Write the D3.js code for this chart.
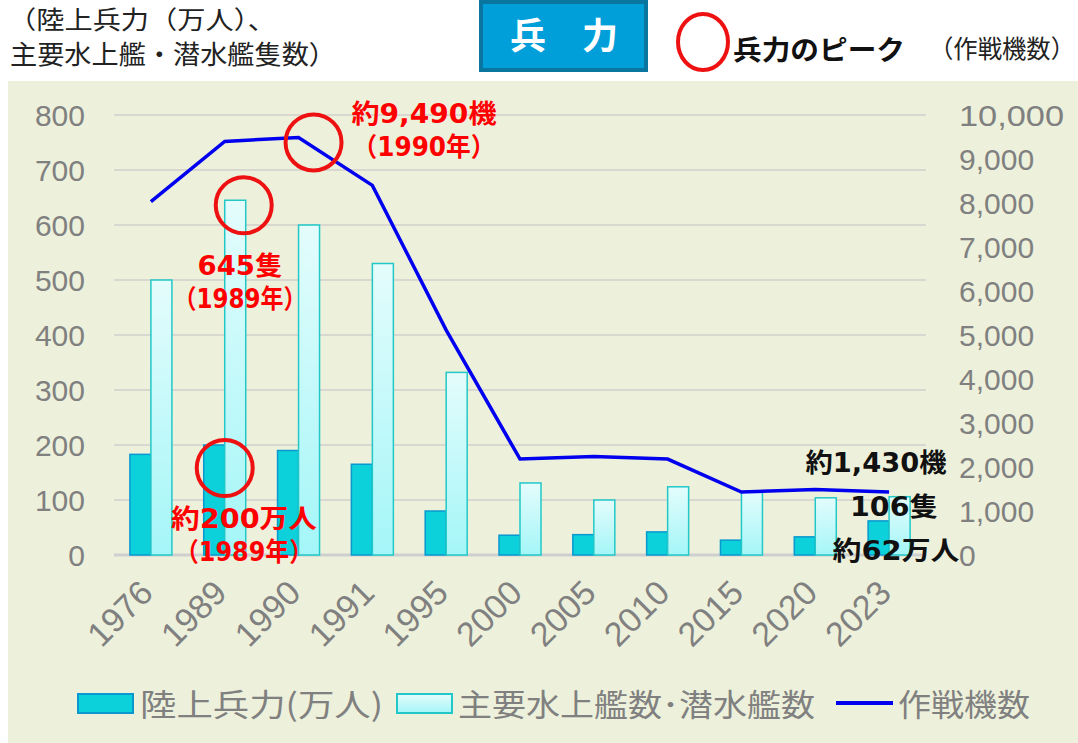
<!DOCTYPE html>
<html lang="ja">
<head>
<meta charset="UTF-8">
<script src="https://cdn.jsdelivr.net/npm/d3@7"></script>
<style>
  body { margin: 0; background: #fff; }
  text { font-family: "Noto Sans CJK JP", "Noto Sans", sans-serif; }
  .num { font-family: "Liberation Sans", Arial, sans-serif; }
  .ann { font-family: "DejaVu Sans", "Noto Sans CJK JP", sans-serif; font-weight: bold; }
</style>
</head>
<body>
<script>
// data
const years = ['1976', '1989', '1990', '1991', '1995', '2000', '2005', '2010', '2015', '2020', '2023'];
const landForces = [183, 200, 190, 165, 80, 36, 37, 42, 27, 33, 62];        // 万人
const ships = [500, 645, 600, 530, 332, 131, 100, 124, 115, 104, 106];      // 隻
const aircraft = [8030, 9400, 9490, 8400, 5110, 2180, 2240, 2180, 1430, 1490, 1430]; // 機
const leftTicks = [0, 100, 200, 300, 400, 500, 600, 700, 800];
const rightTicks = [0, 1000, 2000, 3000, 4000, 5000, 6000, 7000, 8000, 9000, 10000];

const W = 1078, H = 743;
const svg = d3.select('body').append('svg').attr('width', W).attr('height', H);

const defs = svg.append('defs');
const grad = defs.append('linearGradient').attr('id', 'shipGrad').attr('x1', 0).attr('x2', 0).attr('y1', 0).attr('y2', 1);
grad.append('stop').attr('offset', 0).attr('stop-color', '#e4fcfc');
grad.append('stop').attr('offset', 1).attr('stop-color', '#a4f6f8');

// panel
svg.append('rect').attr('x', 8).attr('y', 81).attr('width', W - 8).attr('height', H - 81).attr('fill', '#edf1db');

const x = d3.scaleBand().domain(years).range([114, 926]);
const yL = d3.scaleLinear().domain([0, 800]).range([555, 115]);
const yR = d3.scaleLinear().domain([0, 10000]).range([555, 115]);
const cx = d => x(d) + x.bandwidth() / 2;

// grid
svg.append('g').selectAll('line').data(leftTicks).enter().append('line')
  .attr('x1', 114).attr('x2', 926)
  .attr('y1', d => yL(d)).attr('y2', d => yL(d))
  .attr('stroke', d => d === 0 ? '#cfcfcf' : '#d8d8d0').attr('stroke-width', d => d === 0 ? 3 : 2);

// left axis labels
svg.append('g').selectAll('text').data(leftTicks).enter().append('text')
  .attr('class', 'num')
  .attr('x', 85).attr('y', d => yL(d)).attr('dy', '0.36em')
  .attr('text-anchor', 'end').attr('font-size', 30).attr('fill', '#808080')
  .text(d => d);

// right axis labels
svg.append('g').selectAll('text').data(rightTicks).enter().append('text')
  .attr('class', 'num')
  .attr('x', 959).attr('y', d => yR(d)).attr('dy', '0.36em')
  .attr('text-anchor', 'start').attr('font-size', 30).attr('fill', '#808080')
  .attr('textLength', d => d >= 10000 ? 105 : null).attr('lengthAdjust', 'spacingAndGlyphs')
  .text(d => d3.format(',')(d));

// x labels
svg.append('g').selectAll('text').data(years).enter().append('text')
  .attr('class', 'num')
  .attr('transform', d => `translate(${cx(d) + 4},${595}) rotate(-45)`)
  .attr('text-anchor', 'end').attr('font-size', 34).attr('fill', '#808080')
  .text(d => d);

const bw = 21;
// land bars
svg.append('g').selectAll('rect').data(years).enter().append('rect')
  .attr('x', d => cx(d) - bw)
  .attr('y', (d, i) => yL(landForces[i]))
  .attr('width', bw).attr('height', (d, i) => 555 - yL(landForces[i]))
  .attr('fill', '#0cd0da').attr('stroke', '#0a98cf').attr('stroke-width', 1.5);

// ship bars
svg.append('g').selectAll('rect').data(years).enter().append('rect')
  .attr('x', d => cx(d))
  .attr('y', (d, i) => yL(ships[i]))
  .attr('width', bw).attr('height', (d, i) => 555 - yL(ships[i]))
  .attr('fill', 'url(#shipGrad)').attr('stroke', '#22c8c8').attr('stroke-width', 1.5);

// aircraft line
const line = d3.line().x((d, i) => cx(years[i])).y(d => yR(d));
svg.append('path').datum(aircraft).attr('d', line)
  .attr('fill', 'none').attr('stroke', '#0000ee').attr('stroke-width', 3.5);

// red circles
const circ = [
  { cx: cx('1989'), cy: yL(200) + 23 },
  { cx: cx('1989') + 19, cy: yL(645) + 5 },
  { cx: cx('1990') + 15, cy: yR(9490) + 5 }
];
svg.append('g').selectAll('circle').data(circ).enter().append('circle')
  .attr('cx', d => d.cx).attr('cy', d => d.cy).attr('r', 28)
  .attr('fill', 'none').attr('stroke', '#ee1111').attr('stroke-width', 4);

// annotations
function label(lines, xx, yy, color, widths) {
  const t = svg.append('g');
  lines.forEach((l, i) => t.append('text').attr('class', 'ann')
    .attr('x', xx).attr('y', yy + i * 33)
    .attr('fill', color).attr('font-size', 26).attr('text-anchor', 'middle')
    .attr('textLength', widths[i]).attr('lengthAdjust', 'spacingAndGlyphs')
    .text(l));
}
label(['約9,490機', '（1990年）'], 424, 123, '#ff0000', [145, 143]);
label(['645隻', '（1989年）'], 240, 275, '#ff0000', [85, 133]);
label(['約200万人', '（1989年）'], 244, 528, '#ff0000', [146, 138]);
label(['約1,430機'], 876, 472, '#111', [141]);
label(['106隻'], 894, 516, '#111', [88]);
label(['約62万人'], 896, 560, '#111', [127]);

// header
svg.append('text').attr('x', 8).attr('y', 29).attr('font-size', 25).attr('fill', '#222')
  .attr('textLength', 268).attr('lengthAdjust', 'spacingAndGlyphs').text('（陸上兵力（万人）、');
svg.append('text').attr('x', 10).attr('y', 64).attr('font-size', 26).attr('fill', '#222')
  .attr('textLength', 326).attr('lengthAdjust', 'spacingAndGlyphs').text('主要水上艦・潜水艦隻数）');
svg.append('rect').attr('x', 481).attr('y', 2).attr('width', 165).attr('height', 68)
  .attr('fill', '#009fd9').attr('stroke', '#0a76a0').attr('stroke-width', 4);
svg.append('text').attr('x', 564).attr('y', 49).attr('text-anchor', 'middle')
  .attr('font-size', 36).attr('font-weight', 'bold').attr('fill', '#fff').text('兵　力');
svg.append('ellipse').attr('cx', 703).attr('cy', 42).attr('rx', 25).attr('ry', 28)
  .attr('fill', 'none').attr('stroke', '#ee1111').attr('stroke-width', 4);
svg.append('text').attr('x', 733).attr('y', 60).attr('font-size', 27).attr('font-weight', 'bold')
  .attr('fill', '#111').attr('textLength', 172).attr('lengthAdjust', 'spacingAndGlyphs').text('兵力のピーク');
svg.append('text').attr('x', 929).attr('y', 58).attr('font-size', 25).attr('fill', '#222')
  .attr('textLength', 146).attr('lengthAdjust', 'spacingAndGlyphs').text('（作戦機数）');

// legend
const lg = svg.append('g');
lg.append('rect').attr('x', 78).attr('y', 694).attr('width', 55).attr('height', 19)
  .attr('fill', '#0cd0da').attr('stroke', '#0a98cf').attr('stroke-width', 2);
lg.append('text').attr('x', 140).attr('y', 716).attr('font-size', 31).attr('fill', '#808080')
  .attr('textLength', 243).attr('lengthAdjust', 'spacingAndGlyphs').text('陸上兵力(万人)');
lg.append('rect').attr('x', 397).attr('y', 694).attr('width', 55).attr('height', 19)
  .attr('fill', 'url(#shipGrad)').attr('stroke', '#22c8c8').attr('stroke-width', 2);
lg.append('text').attr('x', 458).attr('y', 716).attr('font-size', 31).attr('fill', '#808080')
  .attr('textLength', 357).attr('lengthAdjust', 'spacingAndGlyphs').text('主要水上艦数･潜水艦数');
lg.append('line').attr('x1', 836).attr('x2', 893).attr('y1', 703).attr('y2', 703)
  .attr('stroke', '#0000ee').attr('stroke-width', 4);
lg.append('text').attr('x', 898).attr('y', 716).attr('font-size', 31).attr('fill', '#808080')
  .attr('textLength', 132).attr('lengthAdjust', 'spacingAndGlyphs').text('作戦機数');
</script>
</body>
</html>
